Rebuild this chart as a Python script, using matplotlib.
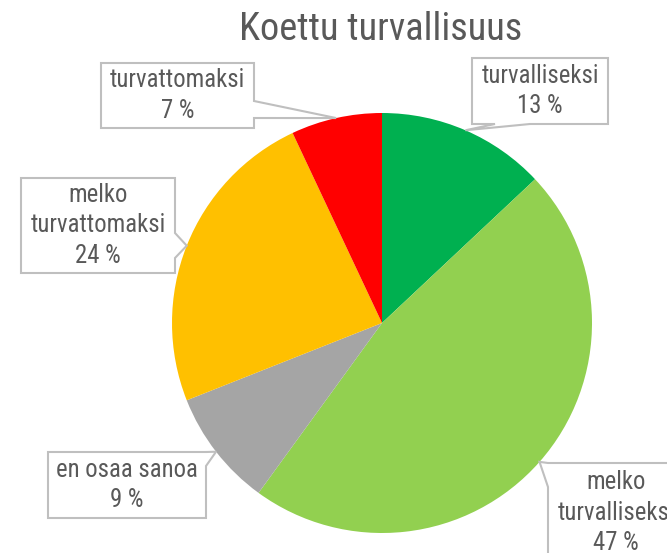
import numpy as np
import matplotlib
matplotlib.use("Agg")
import matplotlib.pyplot as plt
from matplotlib.patches import Polygon
from matplotlib import font_manager as fm

# pick a narrow font if one is installed
def pick_font():
    prefs = ['liberation sans narrow', 'roboto condensed', 'open sans condensed',
             'dejavu sans condensed', 'noto sans condensed']
    entries = fm.fontManager.ttflist
    for p in prefs:
        for e in entries:
            fn = e.fname.lower()
            if p.split()[0] in e.name.lower() and ('narrow' in fn or 'condensed' in fn
                                                   or 'narrow' in e.name.lower()
                                                   or 'condensed' in e.name.lower()):
                if e.weight in (400, 'normal', 'regular') and e.style == 'normal':
                    return fm.FontProperties(fname=e.fname)
    return fm.FontProperties(family='DejaVu Sans', stretch='condensed')

FP = pick_font()

title = "Koettu turvallisuus"
categories = ["turvalliseksi", "melko turvalliseksi", "en osaa sanoa",
              "melko turvattomaksi", "turvattomaksi"]
label_lines = ["turvalliseksi", "melko\nturvalliseksi", "en osaa sanoa",
               "melko\nturvattomaksi", "turvattomaksi"]
values = [13, 47, 9, 24, 7]
colors = ["#00B050", "#92D050", "#A5A5A5", "#FFC000", "#FF0000"]

W, H = 667, 553
fig = plt.figure(figsize=(W / 100, H / 100), dpi=100)
ax = fig.add_axes([0, 0, 1, 1])

cx, cy, R = 382, H - 323, 210
wedges, _ = ax.pie(values, colors=colors, startangle=90, counterclock=False,
                   center=(cx, cy), radius=R, frame=True,
                   wedgeprops=dict(linewidth=0))
ax.set_xlim(0, W)
ax.set_ylim(0, H)
ax.set_aspect('equal')
ax.axis('off')

renderer = fig.canvas.get_renderer()

def fit_size(s, target_px, base=20):
    t = fig.text(0, 0, s, fontproperties=FP, fontsize=base)
    w = t.get_window_extent(renderer).width
    t.remove()
    return base * target_px / w

LAB_FS = fit_size("turvattomaksi", 135)
TIT_FS = fit_size(title, 282)

TXT = "#595959"
EDGE = "#BFBFBF"

# layout of the callout boxes (image pixel coords: x0, y0, x1, y1), wedge side & base
layout = [
    dict(box=(472, 58, 608, 124), side='bottom', base=(495, 530)),
    dict(box=(548, 463, 684, 562), side='left', base=(463, 487)),
    dict(box=(48, 452, 206, 518), side='right', base=(452, 466)),
    dict(box=(21, 178, 175, 273), side='right', base=(233, 258)),
    dict(box=(101, 63, 254, 128), side='right', base=(101, 118)),
]

def fy(y):
    return H - y

for w, lab, v, lay in zip(wedges, label_lines, values, layout):
    mid = np.deg2rad((w.theta1 + w.theta2) / 2)
    tx = w.center[0] + w.r * np.cos(mid)
    ty = w.center[1] + w.r * np.sin(mid)
    x0, y0, x1, y1 = lay['box']
    b0, b1 = lay['base']
    if lay['side'] == 'bottom':
        pts = [(x0, fy(y0)), (x1, fy(y0)), (x1, fy(y1)), (b1, fy(y1)),
               (tx, ty), (b0, fy(y1)), (x0, fy(y1))]
    elif lay['side'] == 'right':
        pts = [(x0, fy(y0)), (x1, fy(y0)), (x1, fy(b0)), (tx, ty),
               (x1, fy(b1)), (x1, fy(y1)), (x0, fy(y1))]
    else:  # left
        pts = [(x0, fy(y0)), (x1, fy(y0)), (x1, fy(y1)), (x0, fy(y1)),
               (x0, fy(b1)), (tx, ty), (x0, fy(b0))]
    ax.add_patch(Polygon(pts, closed=True, facecolor='white', edgecolor=EDGE,
                         linewidth=1.5, zorder=5, joinstyle='miter'))
    ax.text((x0 + x1) / 2, fy((y0 + y1) / 2), f"{lab}\n{v} %", ha='center',
            va='center', multialignment='center', fontproperties=FP,
            fontsize=LAB_FS, color=TXT, linespacing=1.35, zorder=6)

ax.text(381, fy(29), title, ha='center', va='center', fontproperties=FP,
        fontsize=TIT_FS, color=TXT)

fig.savefig("out.png", dpi=100)
